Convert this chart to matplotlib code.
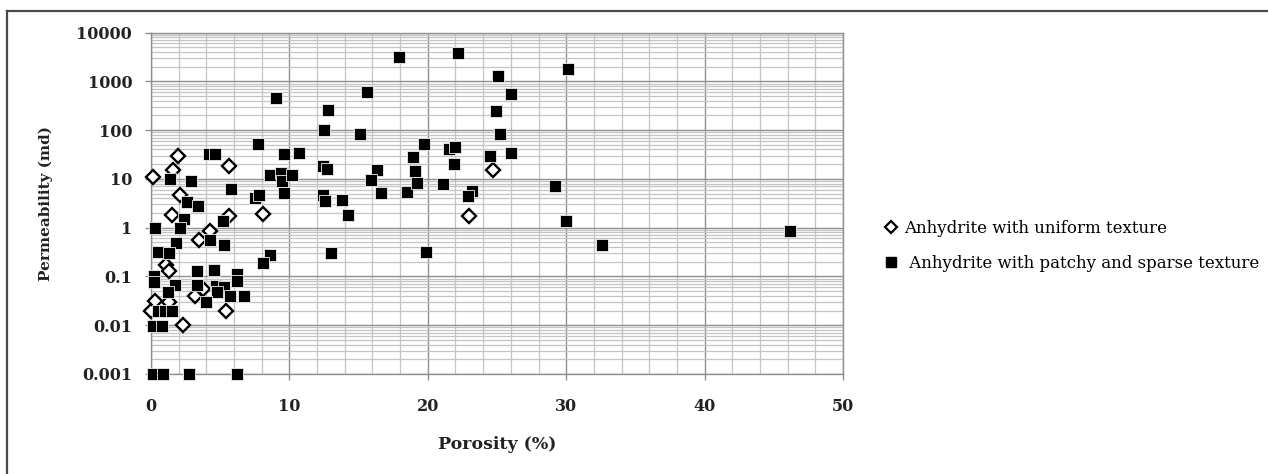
import matplotlib
matplotlib.use("Agg")
import matplotlib.pyplot as plt
from matplotlib.ticker import FixedLocator, FuncFormatter, MultipleLocator, LogLocator, NullFormatter
from matplotlib.lines import Line2D

# ---- data (porosity %, permeability md) ----
uniform_x = [0.0, 0.17, 1.56, 1.97, 5.65, 2.1, 1.5, 5.6, 8.1, 4.26, 3.45,
             1.1, 1.3, 3.2, 3.75, 5.4, 0.3, 1.3, 2.3, 24.7, 23.0]
uniform_y = [0.02, 11, 15, 30, 18, 4.7, 1.8, 1.7, 1.9, 0.85, 0.55,
             0.17, 0.13, 0.039, 0.055, 0.02, 0.032, 0.03, 0.01, 15, 1.7]

patchy_x = [0.3, 1.4, 2.9, 2.6, 3.4, 2.4, 2.1, 4.2, 4.6, 5.8, 5.2, 7.75, 7.5, 7.8,
            9.0, 8.6, 9.6, 9.4, 9.5, 9.6, 10.2, 10.7, 12.5, 12.8, 12.4, 12.7, 12.4,
            12.6, 13.8, 14.2, 15.1, 15.6, 16.3, 15.9, 16.6, 17.9, 18.5, 18.9, 19.1,
            19.2, 19.7, 13.0, 19.9, 22.2, 25.1, 26.0, 24.9, 25.2, 30.1, 21.5, 22.0,
            21.9, 26.0, 24.5, 21.1, 23.2, 22.9, 29.2, 30.0, 32.6, 46.2,
            4.26, 5.3, 1.78, 0.53, 1.3, 8.6, 8.1, 3.35, 4.55, 6.2, 6.2, 0.2, 0.2,
            1.7, 3.35, 4.7, 5.3, 4.8, 1.25, 5.7, 6.7, 4.0, 0.53, 1.0, 1.5, 0.17,
            0.77, 0.17, 0.9, 2.77, 6.2]
patchy_y = [1.0, 10, 9, 3.3, 2.8, 1.5, 1.0, 33, 32, 6.1, 1.37, 53, 4.1, 4.6,
            450, 12, 32, 13.4, 9.2, 5.1, 12, 34, 99, 254, 18.7, 15.8, 4.6,
            3.5, 3.7, 1.8, 84, 594, 15, 9.6, 5.1, 3150, 5.5, 27.6, 14.3,
            8.4, 51, 0.30, 0.32, 3870, 1280, 550, 241, 83, 1790, 41, 45,
            20.5, 34, 29, 7.7, 5.7, 4.4, 7.2, 1.35, 0.44, 0.87,
            0.56, 0.45, 0.48, 0.32, 0.30, 0.27, 0.19, 0.13, 0.138, 0.11, 0.08, 0.1, 0.078,
            0.067, 0.067, 0.065, 0.06, 0.048, 0.048, 0.039, 0.039, 0.03, 0.02, 0.02, 0.02, 0.0095,
            0.0095, 0.001, 0.001, 0.001, 0.001]

x_ticks = [0, 10, 20, 30, 40, 50]
y_ticks = [0.001, 0.01, 0.1, 1, 10, 100, 1000, 10000]
labels = ["Anhydrite with uniform texture", " Anhydrite with patchy and sparse texture"]
x_label = "Porosity (%)"
y_label = "Permeability (md)"

serif = "DejaVu Serif"

fig = plt.figure(figsize=(12.68, 4.74), dpi=100)
ax = fig.add_axes([151/1268, 1 - 374/474, 692/1268, 341.5/474])

ax.set_xscale("linear")
ax.set_yscale("log")
ax.set_xlim(0, 50)
ax.set_ylim(0.001, 10000)

ax.xaxis.set_major_locator(FixedLocator(x_ticks))
ax.xaxis.set_minor_locator(MultipleLocator(2))
ax.yaxis.set_major_locator(FixedLocator(y_ticks))
ax.yaxis.set_minor_locator(LogLocator(base=10, subs=range(2, 10), numticks=20))
ax.yaxis.set_major_formatter(FuncFormatter(lambda v, p: "%g" % v))
ax.yaxis.set_minor_formatter(NullFormatter())

ax.grid(which="major", color="#8f8f8f", linewidth=1.0)
ax.grid(which="minor", color="#c4c4c4", linewidth=0.9)
ax.set_axisbelow(True)

for s in ax.spines.values():
    s.set_color("#8f8f8f")
    s.set_linewidth(1.0)

ax.tick_params(which="major", length=4.5, width=1.0, color="#8f8f8f", direction="out")
ax.tick_params(which="minor", length=0)
ax.tick_params(axis="y", which="major", pad=9)
ax.tick_params(axis="x", which="major", pad=13)
for lab in ax.get_xticklabels() + ax.get_yticklabels():
    lab.set_fontfamily(serif)
    lab.set_fontweight("bold")
    lab.set_fontsize(11.5)
    lab.set_color("#222222")

h1, = ax.plot(uniform_x, uniform_y, linestyle="none", marker="D", markersize=6.8,
              markerfacecolor="white", markeredgecolor="black", markeredgewidth=1.7,
              clip_on=False, label=labels[0], zorder=3)
h2, = ax.plot(patchy_x, patchy_y, linestyle="none", marker="s", markersize=8.2,
              markerfacecolor="black", markeredgecolor="#f0f0f0", markeredgewidth=0.6,
              clip_on=False, label=labels[1], zorder=4)

ax.set_xlabel(x_label, fontfamily=serif, fontweight="bold", fontsize=12.5, color="#222222")
ax.set_ylabel(y_label, fontfamily=serif, fontweight="bold", fontsize=11, color="#222222")
ax.xaxis.set_label_coords(0.5, -0.183)
ax.yaxis.set_label_coords(-0.1416, 0.5)

leg_h1 = Line2D([], [], linestyle="none", marker="D", markersize=6.0, markerfacecolor="white",
                markeredgecolor="black", markeredgewidth=1.6)
leg_h2 = Line2D([], [], linestyle="none", marker="s", markersize=7.5, markerfacecolor="black",
                markeredgecolor="black")
fig.legend([leg_h1, leg_h2], labels, loc="upper left", bbox_to_anchor=(883/1268, 1 - 220/474),
           frameon=False, borderpad=0, borderaxespad=0, handlelength=1.0, handletextpad=0.25,
           labelspacing=1.05, prop={"family": serif, "size": 12})

# outer chart border (top and left edges visible)
fig.add_artist(Line2D([7/1268, 1.0], [1 - 11/474, 1 - 11/474], color="#4a4a4a", linewidth=1.6))
fig.add_artist(Line2D([7/1268, 7/1268], [0.0, 1 - 11/474], color="#4a4a4a", linewidth=1.6))

fig.savefig("out.png", dpi=100)
